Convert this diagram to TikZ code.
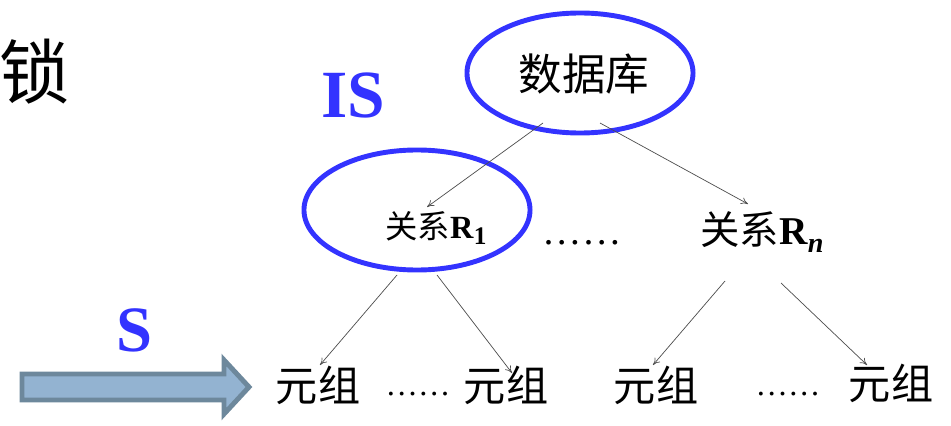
\documentclass[tikz,border=0pt]{standalone}
\usepackage{fontspec}
\setmainfont{Liberation Serif}
\newfontfamily\cjk{Noto Sans CJK SC}
\usetikzlibrary{shapes.geometric,arrows.meta}
\definecolor{isblue}{HTML}{3333FF}
\definecolor{barfill}{HTML}{93B3D1}
\definecolor{barline}{HTML}{6D889C}
\newcommand{\fs}[1]{\fontsize{#1}{#1}\selectfont}
\tikzset{
  ring/.style={draw=isblue, line width=3.5pt, ellipse, inner sep=0pt,
    minimum width=5.65cm, minimum height=3.0cm},
  link/.style={draw=black!70, line width=0.5pt, -{To[length=5pt,width=5pt]}},
  lbl/.style={inner sep=0pt, text=isblue, font=\fs{48pt}\bfseries},
  tuple/.style={inner sep=0pt, font=\fs{30pt}\cjk},
  dots/.style={inner sep=0pt, font=\fs{23pt}}
}
\begin{document}
\begin{tikzpicture}[x=0.025cm, y=-0.025cm]
  \useasboundingbox (0,0) rectangle (951,426);
  % titles
  \node[inner sep=0pt, font=\fs{50pt}\cjk] (lock) at (35,72) {锁};
  \node[lbl] (is) at (353,95) {IS};
  \node[lbl, font=\fs{46pt}\bfseries] (s) at (134,330) {S};
  % tree
  \node[ring] (dbring) at (580,73) {};
  \node[inner sep=0pt, font=\fs{31pt}\cjk] (db) at (584,74) {数据库};
  \node[ring] (r1ring) at (417,210) {};
  \node[inner sep=0pt, font=\fs{23pt}] (r1) at (436,228)
    {{\cjk 关系}\textbf{R}\raisebox{-0.35ex}{\fs{18pt}\bfseries 1}};
  \node[dots, font=\fs{28pt}] (rdots) at (582,243) {……};
  \node[inner sep=0pt, font=\fs{28pt}] (rn) at (762,232)
    {{\cjk 关系}\textbf{R}\raisebox{-0.4ex}{\fs{20pt}\bfseries\itshape n}};
  \node[tuple] (t1) at (318,385) {元组};
  \node[dots] (tdots1) at (418,394) {……};
  \node[tuple] (t2) at (506,385) {元组};
  \node[tuple] (t3) at (656,385) {元组};
  \node[dots] (tdots2) at (788,394) {……};
  \node[tuple] (t4) at (891,383) {元组};
  % links
  \draw[link] ([shift={(-41,49)}]db.center) -- ([shift={(-9,-21)}]r1.center);
  \draw[link] ([shift={(16,49)}]db.center) -- ([shift={(-14,-28)}]rn.center);
  \draw[link] ([shift={(-39,47)}]r1.center) -- ([shift={(2,-20)}]t1.center);
  \draw[link] ([shift={(1,47)}]r1.center) -- ([shift={(6,-12)}]t2.center);
  \draw[link] ([shift={(-37,49)}]rn.center) -- ([shift={(-3,-20)}]t3.center);
  \draw[link] ([shift={(19,51)}]rn.center) -- ([shift={(-24,-18)}]t4.center);
  % scan arrow
  \draw[fill=barfill, draw=barline, line width=3.5pt, line join=miter]
    (22,374) -- (224,374) -- (224,360) -- (249,387) -- (224,414)
    -- (224,400) -- (22,400) -- cycle;
\end{tikzpicture}
\end{document}
